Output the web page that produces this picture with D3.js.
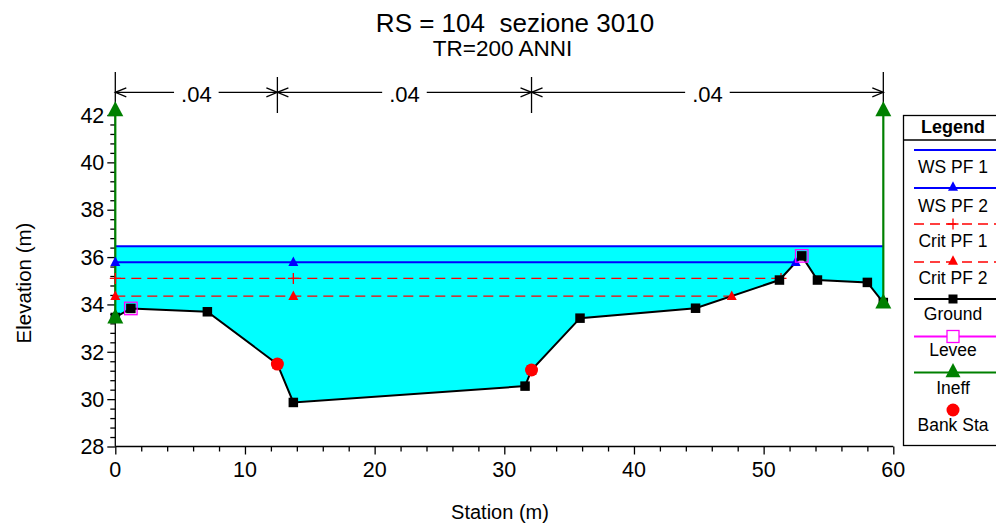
<!DOCTYPE html>
<html><head><meta charset="utf-8">
<script src="https://cdn.jsdelivr.net/npm/d3@7"></script>
<style>
html,body{margin:0;padding:0;background:#fff;}
svg{display:block;font-family:"Liberation Sans",Arial,sans-serif;}
text{white-space:pre;}
</style></head>
<body><svg id="c" width="996" height="524"></svg>
<script>
// ---- data ----
const groundSta  = [0, 1.2, 7.1, 12.5, 13.73, 31.6, 32.1, 35.84, 44.75, 51.22, 52.94, 54.15, 58.0, 59.23];
const groundElev = [33.45, 33.83, 33.69, 31.48, 29.86, 30.55, 31.23, 33.42, 33.84, 35.03, 36.05, 35.03, 34.93, 34.08];
const levee = [[1.2, 33.83], [52.94, 36.05]];
const bankSta = [[12.5, 31.48], [32.1, 31.23]];
const ineffSta = [0, 59.23];
const ineffBottom = [33.45, 34.08];
const ineffTop = 42.2;
const ws1 = 36.46, ws1Range = [0, 59.23];
const ws2 = 35.78, ws2Range = [0, 52.47], ws2Markers = [0, 13.73, 52.47];
const crit1 = 35.10, crit1Range = [0, 51.34], crit1Markers = [0, 13.73, 51.34];
const crit2 = 34.35, crit2Range = [0, 47.54], crit2Markers = [0, 13.73, 47.54];
const nStations = [0, 12.5, 32.1, 59.23];
const nValues = [".04", ".04", ".04"];
const xTicks = [0, 10, 20, 30, 40, 50, 60];
const yTicks = [28, 30, 32, 34, 36, 38, 40, 42];
const legendItems = ["WS PF 1", "WS PF 2", "Crit PF 1", "Crit PF 2", "Ground", "Levee", "Ineff", "Bank Sta"];

// ---- scales ----
const x = d3.scaleLinear().domain([0, 60]).range([115.3, 893.3]);
const y = d3.scaleLinear().domain([28, 42]).range([446.5, 115]);
const svg = d3.select("#c");
const BLUE = "#0000ff", RED = "#ff0000", GREEN = "#008000", MAG = "#ff00ff", CYAN = "#00ffff";

// titles
svg.append("text").attr("x", 515).attr("y", 32).attr("text-anchor", "middle").attr("font-size", 26).text("RS = 104  sezione 3010");
svg.append("text").attr("x", 502.5).attr("y", 56).attr("text-anchor", "middle").attr("font-size", 22.5).text("TR=200 ANNI");

// fill
const ground = groundSta.map((s, i) => [s, groundElev[i]]);
svg.append("path")
  .attr("d", d3.area().x(d => x(d[0])).y0(d => y(d[1])).y1(y(ws1))(ground))
  .attr("fill", CYAN);

// axes
const gx = svg.append("g").attr("transform", `translate(0,${y(28)})`);
gx.call(d3.axisBottom(x).tickValues(d3.range(0, 61, 2)).tickSize(5).tickFormat(""));
gx.selectAll(".tick").filter(d => d % 10 === 0).select("line").attr("y2", 8);
xTicks.forEach(t => {
  gx.append("text").attr("x", x(t)).attr("y", 30.5).attr("fill", "#000").attr("font-size", 21.5).attr("text-anchor", "middle").text(t);
});
gx.select(".domain").attr("d", `M${x(0)},0H${x(60)}`);
const gy = svg.append("g").attr("transform", `translate(${x(0)},0)`);
gy.call(d3.axisLeft(y).tickValues(d3.range(0, 36).map(i => 28 + i * 0.4)).tickSize(5).tickFormat(""));
gy.selectAll(".tick").filter(d => yTicks.some(t => Math.abs(t - d) < 1e-6)).select("line").attr("x2", -8);
yTicks.forEach(t => {
  gy.append("text").attr("x", -11).attr("y", y(t)).attr("dy", "0.36em").attr("text-anchor", "end")
    .attr("fill", "#000").attr("font-size", 21.5).text(t);
});
gy.select(".domain").attr("d", `M0,${y(28)}V${y(42)}`);
gx.attr("font-family", null).attr("font-size", null);
gy.attr("font-family", null).attr("font-size", null);
svg.selectAll(".domain, .tick line").attr("stroke", "#000").attr("stroke-width", 1.3);

svg.append("text").attr("x", 500).attr("y", 519).attr("text-anchor", "middle").attr("font-size", 20).text("Station (m)");
svg.append("text").attr("transform", "translate(31,283) rotate(-90)").attr("text-anchor", "middle").attr("font-size", 20.5).text("Elevation (m)");

// Manning's n dimension line
const dimY = 92.3;
nStations.forEach((s, i) => {
  svg.append("line").attr("x1", x(s)).attr("x2", x(s)).attr("y1", i === 0 || i === nStations.length - 1 ? 72 : 77).attr("y2", 113)
    .attr("stroke", "#000").attr("stroke-width", 1.3);
});
function chevron(px, dir) {
  svg.append("path").attr("d", `M${px + dir * 11},${dimY - 4.5}L${px},${dimY}L${px + dir * 11},${dimY + 4.5}`)
    .attr("fill", "none").attr("stroke", "#000").attr("stroke-width", 1.3);
}
nValues.forEach((v, i) => {
  const a = x(nStations[i]), b = x(nStations[i + 1]), c = (a + b) / 2;
  const t = svg.append("text").attr("x", c).attr("y", dimY + 10).attr("text-anchor", "middle").attr("font-size", 22).text(v);
  const w = t.node().getComputedTextLength() / 2 + 7;
  svg.append("line").attr("x1", a).attr("x2", c - w).attr("y1", dimY).attr("y2", dimY).attr("stroke", "#000").attr("stroke-width", 1.3);
  svg.append("line").attr("x1", c + w).attr("x2", b).attr("y1", dimY).attr("y2", dimY).attr("stroke", "#000").attr("stroke-width", 1.3);
  chevron(a, 1); chevron(b, -1);
});

// water surface lines
function hline(elev, range, color, dash) {
  svg.append("line").attr("x1", x(range[0])).attr("x2", x(range[1])).attr("y1", y(elev)).attr("y2", y(elev))
    .attr("stroke", color).attr("stroke-width", dash ? 1.4 : 2).attr("stroke-dasharray", dash || null);
}
hline(ws1, ws1Range, BLUE);
hline(ws2, ws2Range, BLUE);
hline(crit1, crit1Range, RED, "10,6");
hline(crit2, crit2Range, RED, "10,6");

// ground line
svg.append("path").attr("d", d3.line().x(d => x(d[0])).y(d => y(d[1]))(ground))
  .attr("fill", "none").attr("stroke", "#000").attr("stroke-width", 2);

// ineffective lines
ineffSta.forEach((s, i) => {
  svg.append("line").attr("x1", x(s)).attr("x2", x(s)).attr("y1", y(ineffBottom[i])).attr("y2", y(ineffTop))
    .attr("stroke", GREEN).attr("stroke-width", 2.2);
});

// marker helpers
function tri(g, cx, cy, size, color) {
  const h = size * 0.95;
  g.append("path").attr("d", `M${cx},${cy - h * 0.6}L${cx + size / 2},${cy + h * 0.4}L${cx - size / 2},${cy + h * 0.4}Z`).attr("fill", color);
}
function square(g, cx, cy, s, fill, stroke) {
  g.append("rect").attr("x", cx - s / 2).attr("y", cy - s / 2).attr("width", s).attr("height", s)
    .attr("fill", fill).attr("stroke", stroke || "none").attr("stroke-width", 1.3);
}
function plus(g, cx, cy, s, color) {
  g.append("path").attr("d", `M${cx - s / 2},${cy}H${cx + s / 2}M${cx},${cy - s / 2}V${cy + s / 2}`).attr("stroke", color).attr("stroke-width", 1.3);
}
const mk = svg.append("g");
ws2Markers.forEach(s => tri(mk, x(s), y(ws2), 10, BLUE));
crit1Markers.forEach(s => plus(mk, x(s), y(crit1), 11, RED));
crit2Markers.forEach(s => tri(mk, x(s), y(crit2), 10, RED));
ground.forEach(d => square(mk, x(d[0]), y(d[1]), 9.5, "#000"));
levee.forEach(d => square(mk, x(d[0]), y(d[1]), 12.5, "none", MAG));
ineffSta.forEach((s, i) => { tri(mk, x(s), y(ineffBottom[i]), 16, GREEN); tri(mk, x(s), y(ineffTop), 16, GREEN); });
bankSta.forEach(d => mk.append("circle").attr("cx", x(d[0])).attr("cy", y(d[1])).attr("r", 6.5).attr("fill", RED));

// legend
const lg = svg.append("g");
lg.append("rect").attr("x", 903.5).attr("y", 115.5).attr("width", 100).attr("height", 330).attr("fill", "#fff").attr("stroke", "#000").attr("stroke-width", 1.3);
lg.append("line").attr("x1", 903.5).attr("x2", 1003).attr("y1", 140).attr("y2", 140).attr("stroke", "#000").attr("stroke-width", 1.3);
lg.append("text").attr("x", 953).attr("y", 132.5).attr("text-anchor", "middle").attr("font-size", 18).attr("font-weight", "bold").text("Legend");
const lineYs = [150, 188, 224, 262, 299, 336.5, 372.5, 410];
const textYs = [167, 206, 241, 278, 314, 350, 388, 425];
const lx1 = 914, lx2 = 1000, lc = 953;
legendItems.forEach((name, i) => {
  lg.append("text").attr("x", lc).attr("y", textYs[i]).attr("dy", "0.35em").attr("text-anchor", "middle").attr("font-size", 17.5).text(name);
});
function legLine(yy, color, dash, w) {
  lg.append("line").attr("x1", lx1).attr("x2", lx2).attr("y1", yy).attr("y2", yy).attr("stroke", color)
    .attr("stroke-width", w).attr("stroke-dasharray", dash || null);
}
legLine(lineYs[0], BLUE, null, 2);
legLine(lineYs[1], BLUE, null, 2); tri(lg, lc, lineYs[1] - 1, 10, BLUE);
legLine(lineYs[2], RED, "10,6", 1.4); plus(lg, lc, lineYs[2], 11, RED);
legLine(lineYs[3], RED, "10,6", 1.4); tri(lg, lc, lineYs[3] - 1, 10, RED);
legLine(lineYs[4], "#000", null, 2); square(lg, lc, lineYs[4], 9, "#000");
legLine(lineYs[5], MAG, null, 2); square(lg, lc, lineYs[5], 12, "#fff", MAG);
legLine(lineYs[6], GREEN, null, 2); tri(lg, lc, lineYs[6] - 1, 15, GREEN);
lg.append("circle").attr("cx", lc).attr("cy", lineYs[7]).attr("r", 6.5).attr("fill", RED);
</script></body></html>
